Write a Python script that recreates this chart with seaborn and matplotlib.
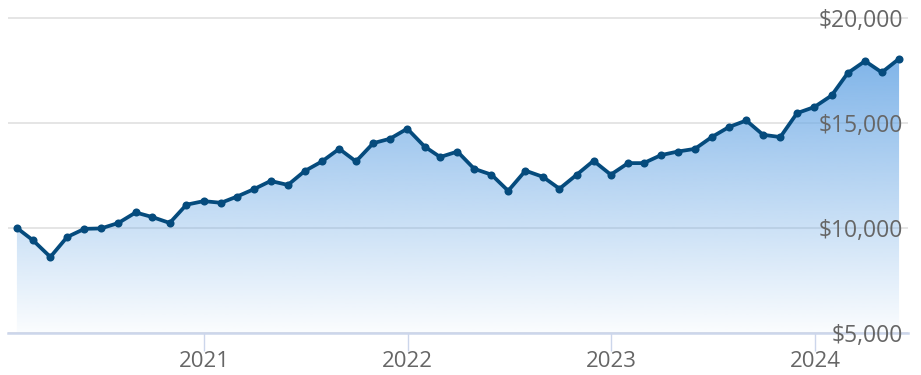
import numpy as np
import pandas as pd
import matplotlib
matplotlib.use("Agg")
import matplotlib.pyplot as plt
import matplotlib.dates as mdates
from matplotlib.ticker import FixedLocator, FuncFormatter
import seaborn as sns

# Month-end values of a hypothetical $10,000 investment
dates = pd.date_range("2020-01-31", "2024-05-31", freq="ME")
values = [
    10000, 9410, 8620, 9570, 9960, 9980, 10240, 10740, 10520, 10240, 11110, 11280,
    11200, 11490, 11850, 12240, 12050, 12710, 13170, 13770, 13170, 14040, 14250, 14730,
    13880, 13380, 13640, 12820, 12540, 11770, 12730, 12440, 11870, 12540, 13200, 12540,
    13090, 13090, 13470, 13640, 13770, 14330, 14810, 15120, 14440, 14330, 15470, 15760,
    16310, 17380, 17950, 17410, 18060,
]
y_ticks = [5000, 10000, 15000, 20000]
x_tick_years = [2021, 2022, 2023, 2024]

df = pd.DataFrame({"date": dates, "value": values})

sns.set_theme(style="white")
plt.rcParams["font.family"] = ["Open Sans", "DejaVu Sans"]

W, H = 921, 375
fig = plt.figure(figsize=(W / 100, H / 100), dpi=100)
ax = fig.add_axes([8 / W, (H - 333) / H, 900 / W, 318 / H])

x0 = pd.Timestamp("2020-01-15")
x1 = pd.Timestamp("2024-06-16")
y_lo, y_hi = 5000, 20143
ax.set_xlim(x0, x1)
ax.set_ylim(y_lo, y_hi)

# Gradient area under the line
poly = ax.fill_between(df["date"], df["value"], y_lo, facecolor="none", edgecolor="none")
n = 256
frac = np.linspace(0, 1, n)[:, None]  # 0 at bottom, 1 at top
vals = y_lo + frac * (y_hi - y_lo)
alpha = np.clip(1 - (20000 - vals) / 15000 * 0.97, 0.03, 1.0)
rgba = np.zeros((n, 1, 4))
rgba[..., 0] = 110 / 255
rgba[..., 1] = 170 / 255
rgba[..., 2] = 230 / 255
rgba[..., 3] = alpha
xn0, xn1 = mdates.date2num(x0), mdates.date2num(x1)
im = ax.imshow(rgba, extent=[xn0, xn1, y_lo, y_hi], origin="lower",
               aspect="auto", zorder=1, interpolation="bilinear")
im.set_clip_path(poly.get_paths()[0], ax.transData)

# Line with markers
sns.lineplot(data=df, x="date", y="value", ax=ax, color="#054b7d",
             linewidth=2.7, marker="o", markersize=5.8, markeredgewidth=0,
             zorder=3)

# Dollar labels sit on top of the area, inside the plot at the right
lab_ax = ax.twinx()
lab_ax.set_ylim(y_lo, y_hi)
lab_ax.yaxis.set_major_locator(FixedLocator(y_ticks))
lab_ax.yaxis.set_major_formatter(FuncFormatter(lambda v, p: f"${v:,.0f}"))
lab_ax.tick_params(axis="y", length=0, pad=-3.8, labelsize=16.5, labelcolor="#666666")
for lab in lab_ax.get_yticklabels():
    lab.set_horizontalalignment("right")
lab_ax.grid(False)
for s in lab_ax.spines.values():
    s.set_visible(False)
lab_ax.set_ylabel("")

# Grid beneath the area
ax.set_axisbelow(True)
ax.yaxis.set_major_locator(FixedLocator(y_ticks))
ax.yaxis.grid(True, color="#e3e3e3", linewidth=1.3)
ax.xaxis.grid(False)
ax.tick_params(axis="y", left=False, right=False, labelleft=False, labelright=False)

ax.xaxis.set_major_locator(FixedLocator(
    [mdates.date2num(pd.Timestamp(f"{y}-01-01")) for y in x_tick_years]))
ax.xaxis.set_major_formatter(FuncFormatter(lambda v, p: mdates.num2date(v).strftime("%Y")))
ax.tick_params(axis="x", length=13, width=1, color="#ccd6eb", pad=0,
               labelsize=16, labelcolor="#666666", bottom=True)

for s in ["top", "left", "right"]:
    ax.spines[s].set_visible(False)
ax.spines["bottom"].set_color("#ccd6eb")
ax.spines["bottom"].set_linewidth(1.8)
ax.spines["bottom"].set_position(("data", 5000))

ax.set_xlabel("")
ax.set_ylabel("")
ax.patch.set_facecolor("white")

fig.savefig("out.png", dpi=100, facecolor="white")
